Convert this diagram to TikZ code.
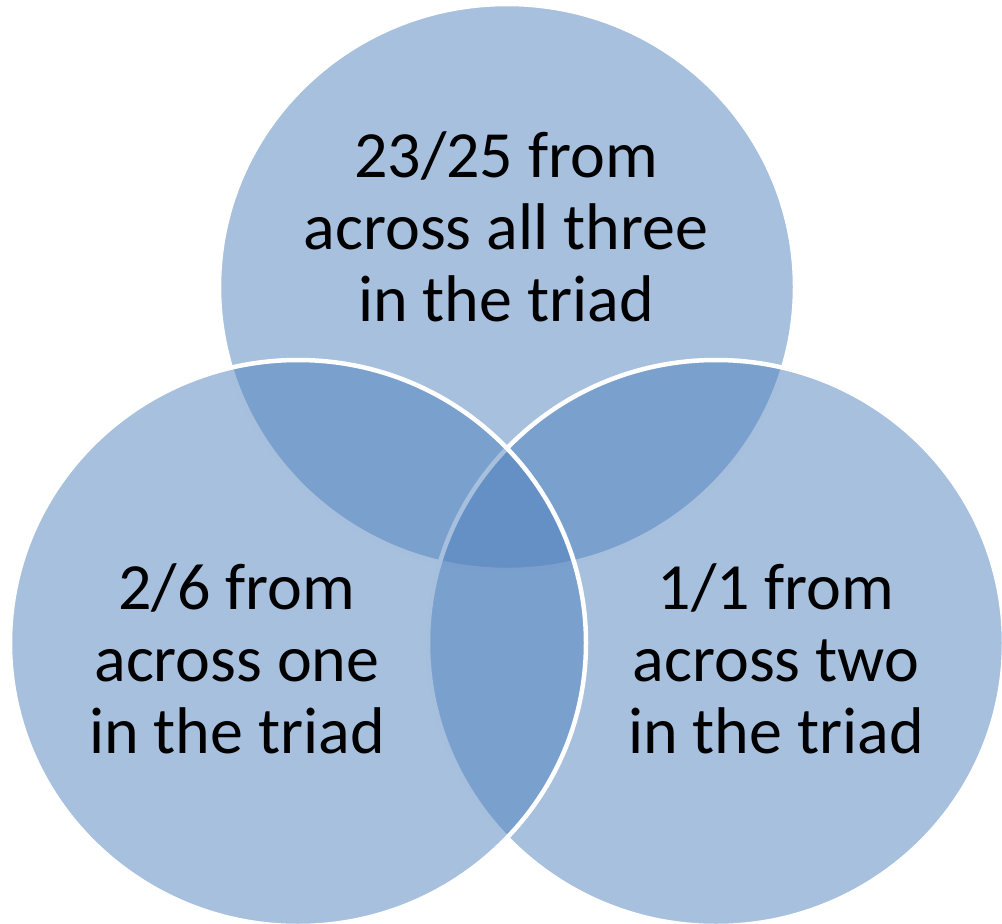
\documentclass[tikz,border=0pt]{standalone}
\usepackage{fontspec}
\setmainfont{Carlito}
\usetikzlibrary{shapes.geometric}
\definecolor{setblue}{HTML}{4F81BD}

\begin{document}
\begin{tikzpicture}[x=1pt,y=-1pt,
    set/.style={ellipse,draw=white,line width=4.5pt,fill=setblue,fill opacity=0.5,
                inner sep=0pt,minimum width=576pt,minimum height=566pt},
    lbl/.style={align=center,font=\fontsize{66}{72}\selectfont}]
    \useasboundingbox (0,0) rectangle (1002,924);

    \node[set] (s0) at (507,287) {};
    \node[set] (s2) at (716,643) {};
    \node[set] (s1) at (298,643) {};

    \node[lbl] (t0) at (506,227) {23/25 from\\across all three\\in the triad};
    \node[lbl] (t1) at (237,659) {2/6 from\\across one\\in the triad};
    \node[lbl] (t2) at (776,659) {1/1 from\\across two\\in the triad};
\end{tikzpicture}
\end{document}
